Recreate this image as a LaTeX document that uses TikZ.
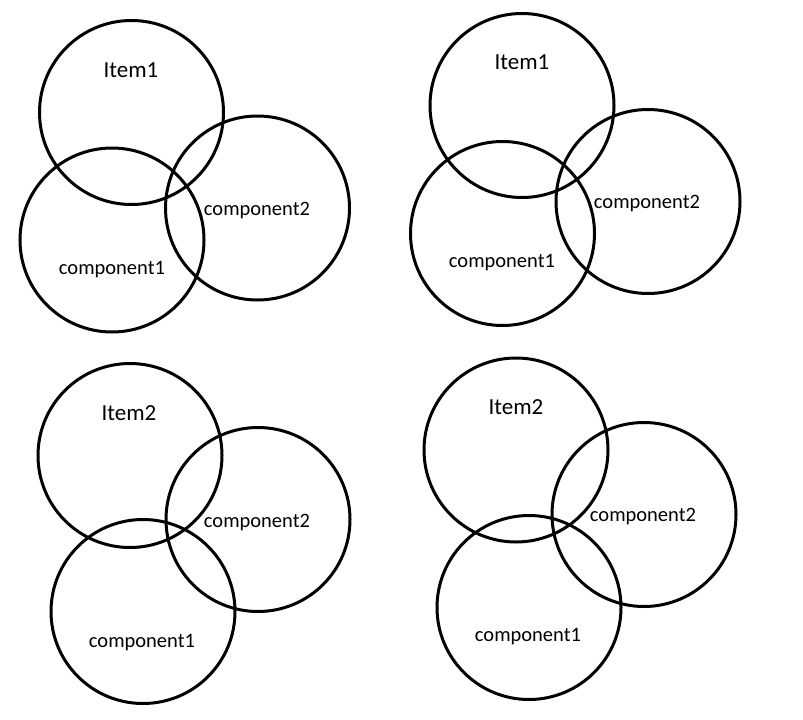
\documentclass[tikz,border=0pt]{standalone}
\usepackage{fontspec}
\setmainfont{Carlito}
\begin{document}
\begin{tikzpicture}[x=1pt,y=-1pt,
  ring/.style={draw=black,line width=3pt,circle,minimum size=184pt,inner sep=0pt},
  itemlbl/.style={font=\fontsize{23}{25}\selectfont,inner sep=0pt},
  complbl/.style={font=\fontsize{20.5}{22}\selectfont,inner sep=0pt}]
\useasboundingbox (0,0) rectangle (803,720);
% top left group
\node[ring] (a0) at (131.5,112.5) {};
\node[ring] (a1) at (112,240) {};
\node[ring] (a2) at (257.5,208) {};
\node[itemlbl] (ta0) at (131,70) {Item1};
\node[complbl] (ta1) at (112,270) {component1};
\node[complbl] (ta2) at (257,210) {component2};
% top right group
\node[ring] (b0) at (522,105.5) {};
\node[ring] (b1) at (502.5,233.5) {};
\node[ring] (b2) at (648,201.5) {};
\node[itemlbl] (tb0) at (522,62) {Item1};
\node[complbl] (tb1) at (502,263) {component1};
\node[complbl] (tb2) at (647,203) {component2};
% bottom left group
\node[ring] (c0) at (130,455.5) {};
\node[ring] (c2) at (258,519.5) {};
\node[ring] (c1) at (143,611.5) {};
\node[itemlbl] (tc0) at (129,413) {Item2};
\node[complbl] (tc2) at (257,522) {component2};
\node[complbl] (tc1) at (142,643) {component1};
% bottom right group
\node[ring] (d0) at (516,450) {};
\node[ring] (d2) at (644,514.5) {};
\node[ring] (d1) at (529,607.5) {};
\node[itemlbl] (td0) at (516,407) {Item2};
\node[complbl] (td2) at (643,516) {component2};
\node[complbl] (td1) at (528,637) {component1};
\end{tikzpicture}
\end{document}
